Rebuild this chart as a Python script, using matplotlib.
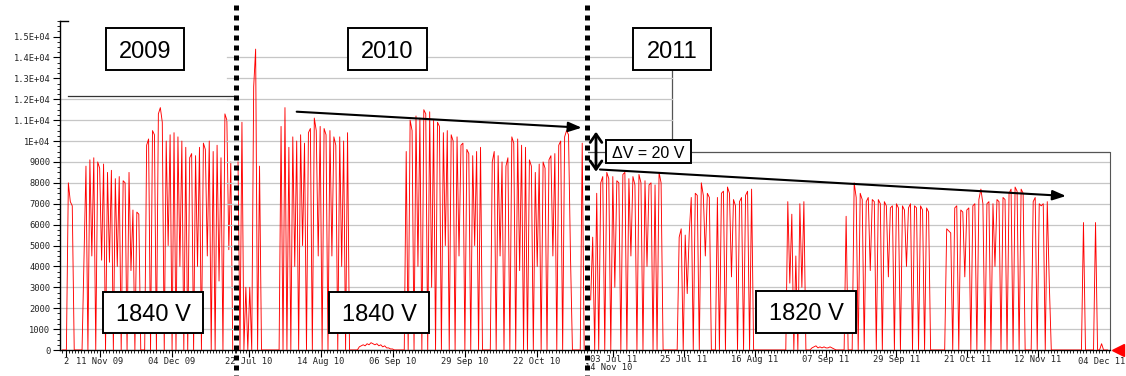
import matplotlib
matplotlib.use("Agg")
import matplotlib.pyplot as plt
import matplotlib.dates as mdates
from matplotlib.patches import Rectangle, FancyArrowPatch
from matplotlib.lines import Line2D
from matplotlib.ticker import MultipleLocator
from datetime import datetime, timedelta

W, H = 1126, 376
STEP_H = 15  # hours between samples

# 2009 run, sampled every 15 h from 30 Oct 2009
start_2009 = datetime(2009, 10, 30)
v_2009 = [0, 0, 0, 8000, 7100, 6900, 0, 0, 0, 0, 0,
          4400, 8800, 0, 9100, 4500, 9200, 0, 9000, 8700, 4300,
          8900, 0, 8500, 4200, 8600, 0, 8200, 4000, 8300, 0,
          8100, 8000, 0, 8500, 3800, 6700, 0, 6600, 6500, 0,
          0, 0, 9800, 10100, 0, 10500, 10300, 0, 11300, 11600,
          10900, 0, 10000, 5000, 10300, 0, 10400, 0, 10200, 4000,
          10000, 0, 9700, 0, 9200, 9400, 0, 9300, 4000, 9700,
          0, 9900, 9600, 4500, 10000, 0, 9500, 0, 9800, 3300,
          9200, 0, 11300, 11000, 4800, 9000, 0]

# 2010 run, from 18 Jul 2010 12:00
start_2010 = datetime(2010, 7, 18, 12)
v_2010 = [9000, 0, 10900, 0, 3000, 0, 3000, 0, 12600, 14400,
          0, 8800, 0, 0, 0, 0, 0, 0, 0, 0,
          0, 0, 10700, 0, 11600, 0, 9700, 0, 10200, 4000,
          10000, 0, 10300, 5000, 9900, 0, 10400, 10600, 0, 11100,
          10500, 4500, 10700, 0, 10600, 10300, 0, 10500, 4500, 10200,
          9800, 0, 10200, 4000, 10000, 0, 10400, 0, 0, 0,
          0, 0, 150, 200, 250, 200, 300, 250, 350, 300,
          250, 300, 200, 250, 150, 200, 100, 100, 50, 50,
          0, 0, 0, 0, 0, 0, 9500, 0, 11000, 10500,
          0, 11200, 4000, 11100, 0, 11500, 11300, 0, 11400, 3000,
          11000, 0, 10900, 10700, 0, 10400, 5000, 10500, 0, 10300,
          10000, 0, 10200, 4500, 9800, 9900, 0, 9600, 9400, 0,
          9300, 5000, 9500, 0, 9700, 0, 0, 0, 0, 0,
          9000, 9500, 0, 9300, 4500, 9000, 0, 8800, 9200, 0,
          10200, 9900, 0, 10100, 3800, 9800, 0, 9700, 0, 9100,
          8800, 0, 8500, 4000, 8900, 0, 9000, 8700, 0, 9100,
          9300, 4500, 9400, 0, 9800, 10000, 0, 10200, 10500, 10300,
          4500, 0, 0, 0, 0, 0, 9900, 0]

# 2011 run, from 26 Jun 2011
start_2011 = datetime(2011, 6, 26)
v_2011 = [2400, 5400, 0, 7500, 0, 8000, 8300, 0, 8500, 8200,
          0, 8300, 3000, 8100, 8000, 0, 8400, 8500, 0, 8200,
          4500, 8300, 7900, 0, 8400, 8000, 0, 8100, 4000, 7900,
          8000, 0, 7900, 0, 8500, 8000, 0, 0, 0, 0,
          0, 0, 0, 0, 5400, 5800, 0, 5500, 2700, 5600,
          7300, 0, 7500, 7400, 0, 8000, 7400, 4500, 7500, 7300,
          0, 0, 0, 7300, 0, 7500, 7600, 0, 7800, 7500,
          3500, 7200, 6900, 0, 7100, 7300, 0, 7400, 7600, 0,
          7700, 0, 0, 0, 0, 0, 0, 0, 0, 0,
          0, 0, 0, 0, 0, 0, 0, 0, 7100, 3200,
          6500, 0, 4500, 0, 7000, 3000, 7100, 0, 0, 0,
          100, 150, 200, 100, 150, 100, 150, 100, 100, 150,
          100, 50, 0, 0, 0, 0, 0, 6400, 0, 0,
          0, 8000, 7300, 0, 7500, 7200, 0, 7100, 7300, 3800,
          7200, 7100, 0, 7200, 7000, 0, 7100, 6900, 3500, 6800,
          6900, 0, 7000, 6800, 0, 6900, 6700, 4000, 6800, 7000,
          0, 6900, 6800, 0, 6900, 6700, 0, 6800, 6600, 0,
          0, 0, 0, 0, 0, 0, 0, 5800, 5700, 5600,
          0, 6800, 6900, 0, 6700, 6600, 3500, 6700, 6800, 0,
          6900, 7000, 0, 7200, 7700, 7000, 0, 7000, 7100, 0,
          7000, 4000, 7200, 7100, 0, 7300, 7200, 0, 7500, 7700,
          0, 7800, 7600, 0, 7700, 7500, 0, 0, 0, 0,
          7100, 7300, 0, 7000, 6900, 7000, 0, 7100, 3200, 0,
          0, 0, 0, 0, 0, 0, 0, 0, 0, 0,
          0, 0, 0, 0, 0, 6100, 0, 0, 0, 0,
          0, 6100, 0, 0, 300, 0, 0, 0]

ticks_2009 = [(datetime(2009, 10, 31), "2"),
              (datetime(2009, 11, 11), "11 Nov 09"),
              (datetime(2009, 12, 4), "04 Dec 09")]
ticks_2010 = [(datetime(2010, 7, 22), "22 Jul 10"),
              (datetime(2010, 8, 14), "14 Aug 10"),
              (datetime(2010, 9, 6), "06 Sep 10"),
              (datetime(2010, 9, 29), "29 Sep 10"),
              (datetime(2010, 10, 22), "22 Oct 10")]
ticks_2011 = [(datetime(2011, 7, 3), "03 Jul 11"),
              (datetime(2011, 7, 25), "25 Jul 11"),
              (datetime(2011, 8, 16), "16 Aug 11"),
              (datetime(2011, 9, 7), "07 Sep 11"),
              (datetime(2011, 9, 29), "29 Sep 11"),
              (datetime(2011, 10, 21), "21 Oct 11"),
              (datetime(2011, 11, 12), "12 Nov 11"),
              (datetime(2011, 12, 4), "04 Dec 11")]

y_levels = list(range(0, 16000, 1000))
y_labels = ["0", "1000", "2000", "3000", "4000", "5000", "6000", "7000",
            "8000", "9000", "1E+04", "1.1E+04", "1.2E+04", "1.3E+04",
            "1.4E+04", "1.5E+04"]

MONO = "DejaVu Sans Mono"
SANS = "Liberation Sans"
GRID = "#c6c6c6"
FRAME = "#555555"

fig = plt.figure(figsize=(W / 100, H / 100), dpi=100)


def fpx(x, y):
    return x / W, 1 - y / H


def panel(left, right, xmin, xmax):
    ax = fig.add_axes([left / W, 1 - 350 / H, (right - left) / W, (350 - 20.7) / H])
    ax.set_facecolor("none")
    ax.set_xlim(xmin, xmax)
    ax.set_ylim(0, 15760)
    for s in ("top", "right", "left"):
        ax.spines[s].set_visible(False)
    ax.spines["bottom"].set_linewidth(1.0)
    ax.tick_params(left=False, labelleft=False)
    ax.xaxis.set_minor_locator(mdates.DayLocator())
    ax.tick_params(axis="x", which="major", direction="out", length=5, width=0.8, labelbottom=False)
    ax.tick_params(axis="x", which="minor", direction="out", length=2.5, width=0.6)
    return ax


def trace(ax, start, values):
    t = [start + timedelta(hours=STEP_H * i) for i in range(len(values))]
    ax.plot(t, values, color="#ff0000", lw=0.65, zorder=3)


def date_labels(ax, ticks, y=-0.036):
    ax.set_xticks([mdates.date2num(d) for d, _ in ticks])
    for d, s in ticks:
        ax.text(d, y, s, transform=ax.get_xaxis_transform(), ha="center", va="center",
                fontsize=6.3, family=MONO, color="#222222", clip_on=False)


def boxed(text, x0, y0, x1, y1, size):
    fx0, fy1 = fpx(x0, y1)
    fig.add_artist(Rectangle((fx0, fy1), (x1 - x0) / W, (y1 - y0) / H,
                             transform=fig.transFigure, facecolor="white",
                             edgecolor="black", lw=1.4, zorder=5))
    cx, cy = fpx((x0 + x1) / 2, (y0 + y1) / 2)
    fig.text(cx, cy, text, ha="center", va="center_baseline", fontsize=size,
             family=SANS, zorder=6)


# 2009 panel, carries the y axis
ax1 = panel(60, 236, datetime(2009, 10, 29, 5), datetime(2009, 12, 24, 10))
ax1.spines["left"].set_visible(True)
ax1.spines["left"].set_linewidth(1.0)
ax1.set_yticks(y_levels, y_labels)
ax1.yaxis.set_minor_locator(MultipleLocator(250))
ax1.tick_params(axis="y", which="major", left=True, labelleft=True, direction="out",
                length=5, width=0.8, labelsize=6.3, pad=2, labelcolor="#222222")
ax1.tick_params(axis="y", which="minor", left=True, direction="out", length=2.5, width=0.6)
for lbl in ax1.get_yticklabels():
    lbl.set_family(MONO)
for lvl in range(1000, 13000, 1000):
    ax1.axhline(lvl, color=GRID, lw=0.9, zorder=1)
ax1.axhline(12170, xmin=0.045, xmax=0.983, color="#333333", lw=0.9, zorder=1)
ax1.plot([0, 0.045], [1, 1], transform=ax1.transAxes, color="black", lw=1.0, clip_on=False)
trace(ax1, start_2009, v_2009)
date_labels(ax1, ticks_2009)

# 2010 panel
ax2 = panel(236, 588, datetime(2010, 7, 17, 20, 24), datetime(2010, 11, 7, 8, 24))
for lvl in range(1000, 15000, 1000):
    ax2.axhline(lvl, xmin=-0.026, xmax=1.238 if lvl >= 11000 else 1.0,
                color=GRID, lw=0.9, zorder=1, clip_on=False)
trace(ax2, start_2010, v_2010)
date_labels(ax2, ticks_2010)
ax2.text(datetime(2010, 11, 14), -0.052, "14 Nov 10", transform=ax2.get_xaxis_transform(),
         ha="center", va="center", fontsize=6.3, family=MONO, color="#222222", clip_on=False,
         bbox=dict(facecolor="white", edgecolor="none", pad=0.3))

# 2011 panel
ax3 = panel(588, 1110, datetime(2011, 6, 25, 4), datetime(2011, 12, 4, 8, 50))
ax2.set_zorder(2)
ax3.set_zorder(1)
for lvl in range(1000, 10000, 1000):
    ax3.axhline(lvl, color=GRID, lw=0.9, zorder=1)
ax3.axhline(9480, color=FRAME, lw=0.9, zorder=1)
ax3.spines["right"].set_visible(True)
ax3.spines["right"].set_bounds(0, 9480)
ax3.spines["right"].set_color(FRAME)
trace(ax3, start_2011, v_2011)
date_labels(ax3, ticks_2011[:-1], y=-0.028)
# last label sits flush against the right edge
ax3.text(1.029, -0.036, ticks_2011[-1][1], transform=ax3.transAxes, ha="right",
         va="center", fontsize=6.3, family=MONO, color="#222222", clip_on=False)
ax3.plot([1.0153], [0], marker="<", markersize=8, color="#ff0000",
         transform=ax3.get_yaxis_transform(), clip_on=False)

# frame line hanging from the 2011 box
fig.add_artist(Line2D([671.7 / W, 671.7 / W], [1 - 70 / H, 1 - 140 / H],
                      transform=fig.transFigure, color=FRAME, lw=0.9))

# year separators
for xs in (236, 587):
    fig.add_artist(Line2D([xs / W, xs / W], [1 - 5 / H, 0], transform=fig.transFigure,
                          color="black", lw=3.6, linestyle=(0, (1, 1)),
                          dash_capstyle="butt", zorder=8))

# trend arrows
for a, b in (((296.7, 111.7), (581.7, 127.7)), ((600, 169.5), (1066, 196))):
    fig.add_artist(FancyArrowPatch(fpx(*a), fpx(*b), transform=fig.transFigure,
                                   arrowstyle="-|>,head_length=0.8,head_width=0.3",
                                   mutation_scale=10, lw=1.5, color="black",
                                   shrinkA=0, shrinkB=0, zorder=7))
fig.add_artist(FancyArrowPatch(fpx(596, 131.7), fpx(596, 171.7), transform=fig.transFigure,
                               arrowstyle="<->,head_length=0.5,head_width=0.35",
                               mutation_scale=12, lw=2.0, color="black",
                               shrinkA=0, shrinkB=0, zorder=7))

boxed("2009", 106, 28, 184, 70, 17)
boxed("2010", 348, 28, 427, 70, 17)
boxed("2011", 633, 28, 711, 70, 17)
boxed("1840 V", 103, 292, 203, 333, 17)
boxed("1840 V", 329, 292, 429, 333, 17)
boxed("1820 V", 756, 291, 856, 333, 17)
boxed("\u0394V = 20 V", 606, 140, 691, 163, 11.5)

fig.savefig("out.png", dpi=100)
